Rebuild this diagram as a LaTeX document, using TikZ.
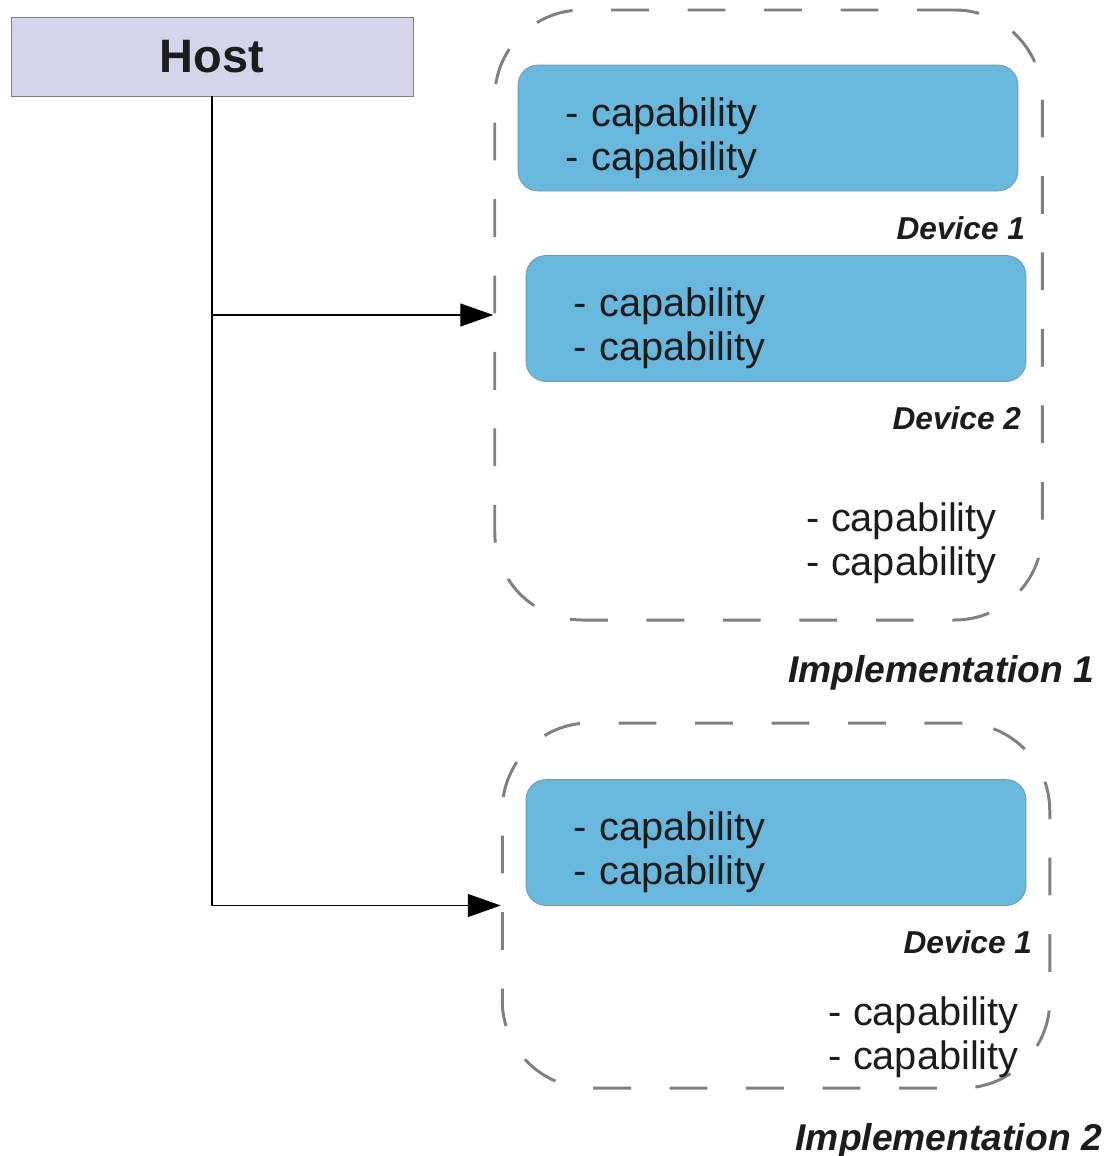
\documentclass[tikz,border=0pt]{standalone}
\usepackage{fontspec}
\setmainfont{Liberation Sans}
\usetikzlibrary{positioning,arrows.meta}

\definecolor{hostfill}{RGB}{212,212,234}
\definecolor{devfill}{RGB}{104,183,220}
\definecolor{implgray}{RGB}{128,128,128}
\definecolor{ink}{RGB}{28,28,28}

\begin{document}
\begin{tikzpicture}[
  text=ink,
  hostbox/.style={draw=gray,fill=hostfill,minimum width=8.04cm,minimum height=1.58cm,
    font=\fontsize{26.7}{30}\selectfont\bfseries},
  implbox/.style={draw=implgray,line width=1.7pt,dash pattern=on 21.5pt off 22pt,
    rounded corners=1.75cm,minimum width=10.95cm},
  devbox/.style={draw=gray!60!devfill,fill=devfill,rounded corners=0.4cm,
    minimum height=2.52cm,inner xsep=0.94cm,inner ysep=0pt,text width=8.12cm,
    text height=0.98cm,align=left,font=\fontsize{22.6}{25}\selectfont},
  caps/.style={inner sep=0pt,align=left,font=\fontsize{22.6}{25}\selectfont},
  devlabel/.style={inner sep=0pt,font=\fontsize{18}{20}\selectfont\bfseries\itshape},
  impllabel/.style={inner sep=0pt,font=\fontsize{21.2}{24}\selectfont\bfseries\itshape}
]
  \useasboundingbox (0,0) rectangle (22.14,-23.12);

  % Host
  \node[hostbox] (host) at (4.24,-1.13) {Host};

  % Implementation 1
  \node[implbox,minimum height=12.2cm] (impl1) at (15.37,-6.30) {};
  \node[devbox] (dev11) at (15.36,-2.56) {- capability\\- capability};
  \node[devlabel,below left=0.5cm and -0.14cm of dev11.south east] (dev11lbl) {Device 1};
  \node[devbox] (dev12) at (15.52,-6.37) {- capability\\- capability};
  \node[devlabel,below left=0.49cm and 0.1cm of dev12.south east] (dev12lbl) {Device 2};
  \node[caps,anchor=east] (caps1) at (19.94,-10.86) {- capability\\- capability};
  \node[impllabel,below left=0.67cm and -1.02cm of impl1.south east] (impl1lbl) {Implementation 1};

  % Implementation 2
  \node[implbox,minimum height=7.3cm] (impl2) at (15.52,-18.11) {};
  \node[devbox] (dev21) at (15.52,-16.85) {- capability\\- capability};
  \node[devlabel,below left=0.49cm and -0.12cm of dev21.south east] (dev21lbl) {Device 1};
  \node[caps,anchor=east] (caps2) at (20.38,-20.74) {- capability\\- capability};
  \node[impllabel,below left=0.67cm and -1.02cm of impl2.south east] (impl2lbl) {Implementation 2};

  % host links
  \draw[line width=0.6pt,-{Triangle[length=0.66cm,width=0.46cm]}]
    (host.south) |- (impl1.west);
  \draw[line width=0.6pt,-{Triangle[length=0.66cm,width=0.46cm]}]
    (host.south) |- (impl2.west);
\end{tikzpicture}
\end{document}
